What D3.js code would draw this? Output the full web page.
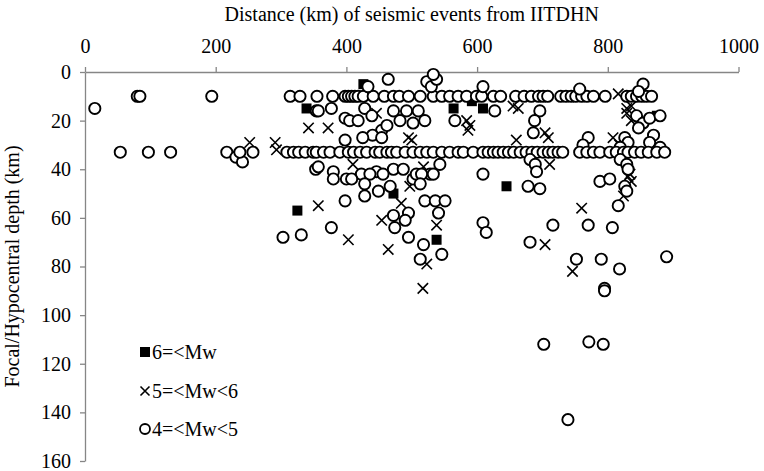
<!DOCTYPE html>
<html>
<head>
<meta charset="utf-8">
<script src="https://cdn.jsdelivr.net/npm/d3@7"></script>
<style>
  body { margin: 0; background: #fff; }
  text { font-family: "Liberation Serif", "Times New Roman", serif; }
</style>
</head>
<body>
<div id="chart"></div>
<script>
// distance (km), depth (km) pairs for each magnitude class
const mw6 = [
  [339, 15], [426, 5], [564, 15], [592, 12], [609, 15], [875, 18],
  [325, 57], [472, 50], [538, 69], [645, 47]
]

const mw5 = [
  [252, 29], [291, 29], [293, 32], [342, 23], [372, 23], [446, 17], [500, 28],
  [584, 20], [589, 22], [586, 24], [655, 14], [663, 15], [660, 28], [704, 25],
  [709, 27], [711, 38], [816, 9], [829, 15], [836, 14], [829, 17], [836, 20],
  [808, 27], [818, 30], [831, 43], [836, 45], [834, 42], [824, 51], [410, 38],
  [518, 39], [495, 27], [497, 47], [484, 54], [454, 61], [403, 69], [464, 73],
  [538, 63], [523, 79], [517, 89], [704, 71], [760, 56], [746, 82], [357, 55]
]

const mw4 = [
  // far west
  [15, 15], [80, 10], [84, 10], [194, 10],
  [54, 33], [97, 33], [131, 33], [217, 33], [231, 35], [241, 37], [237, 33], [257, 33],
  // 10 km band
  [314, 10], [329, 10], [355, 10], [379, 10], [398, 10], [403, 10], [408, 10], [413, 10],
  [418, 10], [426, 10], [441, 10], [458, 10], [472, 10], [481, 10], [495, 10], [513, 10],
  [533, 10], [546, 10], [558, 10], [571, 10], [584, 10], [599, 10], [607, 10], [625, 10],
  [636, 10], [659, 10], [672, 10], [683, 10], [694, 10], [701, 10], [708, 10], [728, 10],
  [736, 10], [744, 10], [751, 10], [760, 10], [768, 10], [778, 10], [796, 10], [829, 10],
  [836, 10], [844, 10], [852, 10], [859, 10], [867, 10],
  // shallower than 10
  [433, 6], [464, 3], [523, 4], [530, 6], [538, 3], [533, 1], [609, 6], [757, 7],
  [854, 5], [847, 8],
  // between the bands
  [354, 16], [357, 16], [377, 15], [398, 19], [405, 20], [418, 20], [428, 15], [439, 18],
  [454, 24], [462, 22], [472, 16], [482, 20], [492, 16], [502, 21], [510, 16], [520, 20],
  [440, 26], [425, 27], [398, 28], [454, 27], [566, 20], [627, 16], [696, 16], [688, 20],
  [686, 25], [770, 27], [762, 30], [826, 27], [831, 29], [819, 31], [844, 18], [854, 21],
  [864, 19], [847, 23], [870, 26], [864, 29], [880, 18], [880, 31],
  // 33 km band
  [309, 33], [319, 33], [327, 33], [337, 33], [349, 33], [354, 33], [365, 33], [375, 33],
  [390, 33], [403, 33], [411, 33], [421, 33], [431, 33], [444, 33], [451, 33], [462, 33],
  [469, 33], [477, 33], [490, 33], [502, 33], [513, 33], [523, 33], [533, 33], [546, 33],
  [558, 33], [571, 33], [579, 33], [594, 33], [609, 33], [617, 33], [625, 33], [632, 33],
  [640, 33], [648, 33], [656, 33], [666, 33], [675, 33], [684, 33], [692, 33], [701, 33],
  [709, 33], [716, 33], [724, 33], [731, 33], [757, 33], [768, 33], [778, 33], [788, 33],
  [803, 33], [813, 33], [824, 33], [831, 33], [841, 33], [851, 33], [862, 33], [875, 33],
  [887, 33],
  // deeper
  [353, 40], [357, 39], [380, 41], [400, 44], [423, 42], [446, 41], [472, 40], [487, 40],
  [502, 44], [507, 42], [528, 42], [543, 38], [681, 36], [689, 38], [819, 36], [829, 38],
  [831, 40], [408, 44], [436, 42], [456, 42], [428, 46], [449, 49], [467, 47], [398, 53],
  [428, 51], [515, 42], [533, 42], [513, 46], [520, 53], [536, 53], [551, 53], [541, 58],
  [472, 59], [495, 58], [490, 61], [474, 64], [495, 68], [518, 71], [513, 77], [546, 75],
  [609, 42], [609, 62], [614, 66], [678, 47], [696, 48], [691, 41], [681, 70], [716, 63],
  [752, 77], [770, 63], [788, 45], [803, 44], [816, 55], [807, 64], [790, 77], [818, 81],
  [795, 89], [795, 90], [826, 47], [829, 49], [303, 68], [331, 67], [377, 64], [380, 44],
  [890, 76], [702, 112], [771, 111], [793, 112], [739, 143]
]

const xTicks = [0, 200, 400, 600, 800, 1000]
const yTicks = [0, 20, 40, 60, 80, 100, 120, 140, 160]
const legendLabels = ["6=<Mw", "5=<Mw<6", "4=<Mw<5"]

const width = 764
const height = 471
const margin = ({top: 72, right: 25, bottom: 10, left: 85})
const axisColor = "#868686"
const fontSize = 20

const svg = d3.select("#chart").append("svg")
  .attr("width", width)
  .attr("height", height)

const x = d3.scaleLinear()
  .domain([0, 1000])
  .range([margin.left, 738.5])

const y = d3.scaleLinear()
  .domain([0, 160])
  .range([margin.top, 461])

const styleAxis = g => g
  .call(g => g.selectAll("path, line").attr("stroke", axisColor).attr("stroke-width", 1.3))
  .call(g => g.selectAll("text").attr("font-size", fontSize).attr("fill", "#000"))

const xAxis = g => g
  .attr("transform", `translate(0,${margin.top})`)
  .call(d3.axisTop(x).tickValues(xTicks).tickFormat(d3.format("d"))
    .tickSize(5).tickSizeOuter(0).tickPadding(14))
  .call(styleAxis)

const yAxis = g => g
  .attr("transform", `translate(${margin.left},0)`)
  .call(d3.axisLeft(y).tickValues(yTicks).tickFormat(d3.format("d"))
    .tickSize(5).tickSizeOuter(0).tickPadding(9))
  .call(styleAxis)

svg.append("g").call(xAxis)
svg.append("g").call(yAxis)

svg.append("text")
  .attr("x", (x.range()[0] + x.range()[1]) / 2)
  .attr("y", 21)
  .attr("text-anchor", "middle")
  .attr("font-size", fontSize)
  .text("Distance (km) of seismic events from IITDHN")

svg.append("text")
  .attr("transform", `translate(19,${(y.range()[0] + y.range()[1]) / 2}) rotate(-90)`)
  .attr("text-anchor", "middle")
  .attr("font-size", fontSize)
  .text("Focal/Hypocentral depth (km)")

// markers
const sq = 5
const cr = 5.6
const xs = 5.2
const crossPath = s => `M${-s},${-s}L${s},${s}M${-s},${s}L${s},${-s}`

const drawSquares = (g, data) => g.selectAll("rect").data(data).join("rect")
  .attr("x", d => x(d[0]) - sq)
  .attr("y", d => y(d[1]) - sq)
  .attr("width", sq * 2)
  .attr("height", sq * 2)
  .attr("fill", "#000")

const drawCrosses = (g, data) => g.selectAll("path").data(data).join("path")
  .attr("transform", d => `translate(${x(d[0])},${y(d[1])})`)
  .attr("d", crossPath(xs))
  .attr("stroke", "#000")
  .attr("stroke-width", 1.6)
  .attr("fill", "none")

const drawCircles = (g, data) => g.selectAll("circle").data(data).join("circle")
  .attr("cx", d => x(d[0]))
  .attr("cy", d => y(d[1]))
  .attr("r", cr)
  .attr("fill", "#fff")
  .attr("stroke", "#000")
  .attr("stroke-width", 1.9)

svg.append("g").call(drawSquares, mw6)
svg.append("g").call(drawCrosses, mw5)
svg.append("g").call(drawCircles, mw4)

// legend
const legend = svg.append("g").attr("transform", "translate(145,0)")
const legendY = [352, 391, 429]

legend.append("rect")
  .attr("x", -5).attr("y", legendY[0] - 5)
  .attr("width", 10).attr("height", 10)
  .attr("fill", "#000")

legend.append("path")
  .attr("transform", `translate(0,${legendY[1]})`)
  .attr("d", crossPath(4.5))
  .attr("stroke", "#000")
  .attr("stroke-width", 1.6)

legend.append("circle")
  .attr("cy", legendY[2])
  .attr("r", 5)
  .attr("fill", "#fff")
  .attr("stroke", "#000")
  .attr("stroke-width", 1.8)

legend.selectAll("text").data(legendLabels).join("text")
  .attr("x", 7)
  .attr("y", (d, i) => legendY[i])
  .attr("dy", "0.35em")
  .attr("font-size", fontSize)
  .text(d => d)
</script>
</body>
</html>
